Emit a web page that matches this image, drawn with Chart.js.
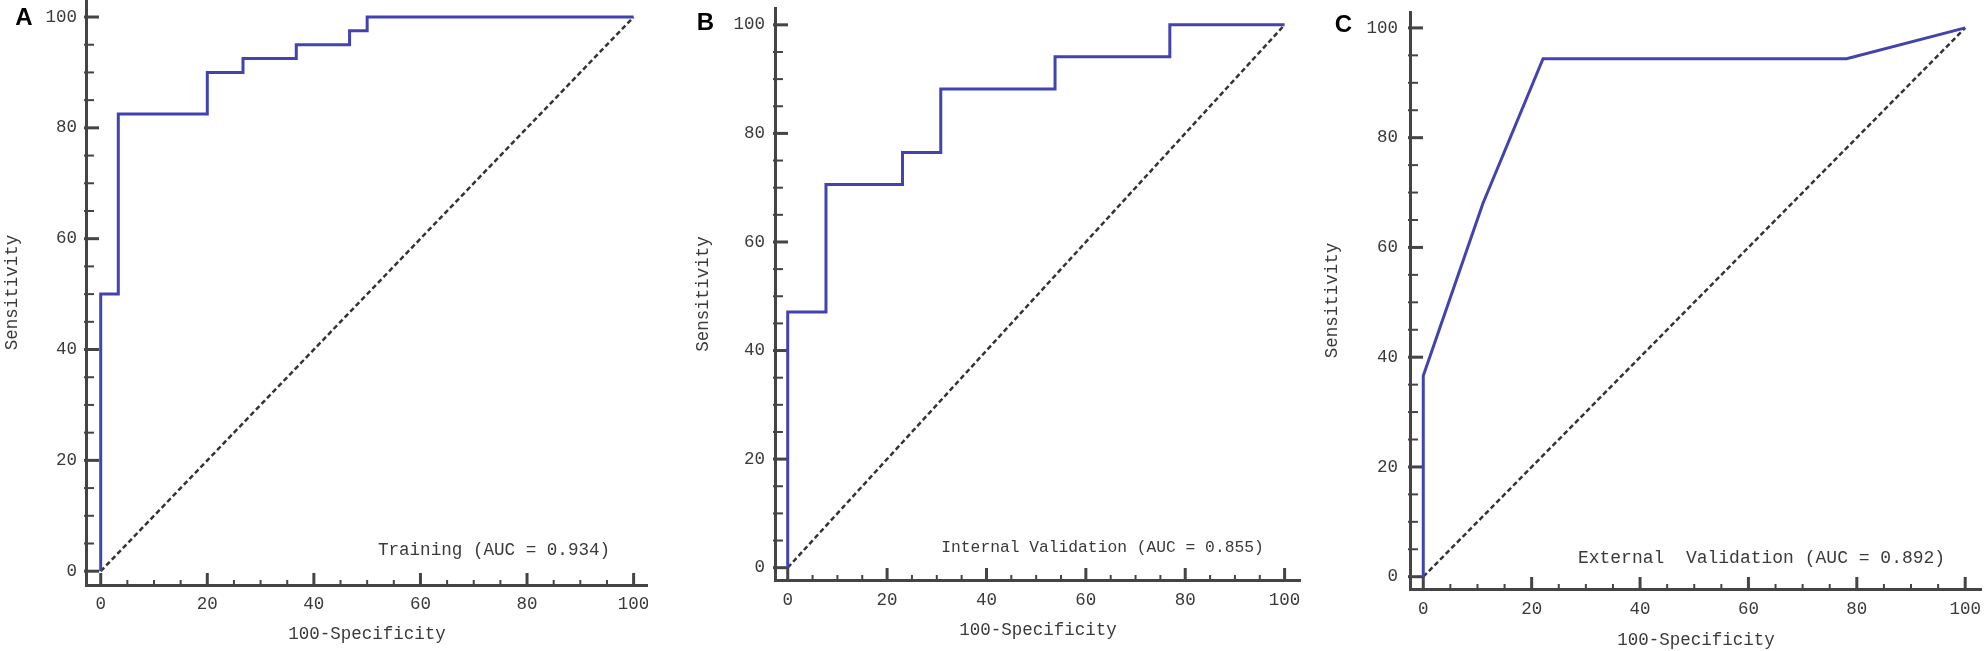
<!DOCTYPE html>
<html>
<head>
<meta charset="utf-8">
<script src="https://cdn.jsdelivr.net/npm/chart.js@4.4.1/dist/chart.umd.min.js"></script>
<style>
  html, body { margin: 0; padding: 0; background: #fff; }
  body { width: 1984px; height: 651px; position: relative; overflow: hidden; }
  .panel { position: absolute; top: 0; height: 651px; }
</style>
</head>
<body>
<div class="panel" id="boxA"><canvas id="chartA"></canvas></div>
<div class="panel" id="boxB"><canvas id="chartB"></canvas></div>
<div class="panel" id="boxC"><canvas id="chartC"></canvas></div>
<script>
// axis ticks shared by the three ROC plots
const tickValues = [0, 20, 40, 60, 80, 100];
const minorValues = [5, 10, 15, 25, 30, 35, 45, 50, 55, 65, 70, 75, 85, 90, 95];
const xTitle = '100-Specificity';
const yTitle = 'Sensitivity';

// chance line
const diagX = [0, 100];
const diagY = [0, 100];

// A - training
const fprA = [0, 0, 3.3, 20, 26.7, 36.7, 46.7, 50, 100];
const tprA = [0, 50, 82.5, 90, 92.5, 95, 97.5, 100, 100];
const noteA = 'Training (AUC = 0.934)';

// B - internal validation
const fprB = [0, 0, 7.7, 23.1, 30.8, 53.8, 76.9, 100];
const tprB = [0, 47.1, 70.6, 76.5, 88.2, 94.1, 100, 100];
const noteB = 'Internal Validation (AUC = 0.855)';

// C - external validation
const fprC = [0, 0, 11, 22.1, 78.1, 100];
const tprC = [0, 36.6, 68, 94.4, 94.4, 100];
const noteC = 'External  Validation (AUC = 0.892)';

const textColor = '#3a3a3a';
const axisColor = '#444';
const monoFont = '"Liberation Mono", "DejaVu Sans Mono", monospace';

const panels = [
  {
    canvas: 'chartA', box: 'boxA', left: 0, width: 648, letter: 'A',
    fpr: fprA, tpr: tprA, stepped: 'before', note: noteA,
    padTop: 0, yWidth: 86, xHeight: 66,
    xRange: [-2.76, 102.7], yRange: [-2.49, 103.07],
    yTickPad: 9, xTickPad: 9, yTitlePad: 2, xTitlePad: 6,
    notePos: [95.6, 3.8], noteSize: 17.6, letterPos: [24, 18]
  },
  {
    canvas: 'chartB', box: 'boxB', left: 688, width: 613, letter: 'B',
    fpr: fprB, tpr: tprB, stepped: 'before', note: noteB,
    padTop: 8, yWidth: 87, xHeight: 71,
    xRange: [-2.56, 103.3], yRange: [-2.27, 103.1],
    yTickPad: 10, xTickPad: 10, yTitlePad: 5, xTitlePad: 10,
    notePos: [95.8, 3.6], noteSize: 16.3, letterPos: [17.5, 23]
  },
  {
    canvas: 'chartC', box: 'boxC', left: 1320, width: 662, letter: 'C',
    fpr: fprC, tpr: tprC, stepped: false, note: noteC,
    padTop: 12, yWidth: 90, xHeight: 62,
    xRange: [-2.45, 103.1], yRange: [-2.24, 102.9],
    yTickPad: 12, xTickPad: 10, yTitlePad: 1.5, xTitlePad: 0,
    notePos: [96.3, 3.4], noteSize: 18, letterPos: [23.5, 25]
  }
];

// inward tick marks, major every 20 and minor every 5
const inwardTicks = {
  id: 'inwardTicks',
  beforeDatasetsDraw(chart) {
    const { ctx, chartArea, scales } = chart;
    const xs = scales.x, ys = scales.y;
    ctx.save();
    ctx.strokeStyle = axisColor;
    ctx.lineCap = 'butt';
    function mark(list, lenY, lenX, width) {
      ctx.lineWidth = width;
      list.forEach(v => {
        const py = ys.getPixelForValue(v);
        ctx.beginPath();
        ctx.moveTo(chartArea.left - 2, py);
        ctx.lineTo(chartArea.left + lenY, py);
        ctx.stroke();
        const px = xs.getPixelForValue(v);
        ctx.beginPath();
        ctx.moveTo(px, chartArea.bottom + 2);
        ctx.lineTo(px, chartArea.bottom - lenX);
        ctx.stroke();
      });
    }
    mark(tickValues, 13, 12, 3);
    mark(minorValues, 8, 5, 2);
    ctx.restore();
  }
};

// AUC note and panel letter
const panelText = {
  id: 'panelText',
  afterDraw(chart, args, opts) {
    const { ctx, scales } = chart;
    ctx.save();
    ctx.fillStyle = textColor;
    ctx.font = opts.noteSize + 'px ' + monoFont;
    ctx.textAlign = 'right';
    ctx.textBaseline = 'middle';
    ctx.fillText(opts.note, scales.x.getPixelForValue(opts.notePos[0]), scales.y.getPixelForValue(opts.notePos[1]));
    ctx.fillStyle = '#000';
    ctx.font = 'bold 24px "Liberation Sans", Arial, sans-serif';
    ctx.textAlign = 'center';
    ctx.fillText(opts.letter, opts.letterPos[0], opts.letterPos[1]);
    ctx.restore();
  }
};

function buildPanel(p) {
  const box = document.getElementById(p.box);
  box.style.left = p.left + 'px';
  box.style.width = p.width + 'px';

  const curve = p.fpr.map((v, i) => ({ x: v, y: p.tpr[i] }));
  const chance = diagX.map((v, i) => ({ x: v, y: diagY[i] }));

  const tickFont = { family: monoFont, size: 17.5 };

  return new Chart(document.getElementById(p.canvas), {
    type: 'line',
    data: {
      datasets: [
        {
          data: curve,
          borderColor: '#4343b0',
          borderWidth: 3,
          stepped: p.stepped,
          tension: 0,
          pointRadius: 0,
          fill: false,
          clip: false
        },
        {
          data: chance,
          borderColor: '#333',
          borderWidth: 2.5,
          borderDash: [5, 3],
          tension: 0,
          pointRadius: 0,
          fill: false,
          clip: false
        }
      ]
    },
    options: {
      responsive: true,
      maintainAspectRatio: false,
      animation: false,
      layout: { padding: { top: p.padTop, left: 0, right: 0, bottom: 0 } },
      plugins: {
        legend: { display: false },
        tooltip: { enabled: false },
        panelText: { note: p.note, notePos: p.notePos, noteSize: p.noteSize, letter: p.letter, letterPos: p.letterPos }
      },
      scales: {
        x: {
          type: 'linear',
          min: p.xRange[0],
          max: p.xRange[1],
          grid: { display: false, drawTicks: false },
          border: { display: true, color: axisColor, width: 3 },
          ticks: { color: textColor, font: tickFont, padding: p.xTickPad, maxRotation: 0 },
          title: {
            display: true, text: xTitle, color: textColor,
            font: tickFont, padding: { top: 0, bottom: p.xTitlePad }
          },
          afterBuildTicks: s => { s.ticks = tickValues.map(v => ({ value: v })); },
          afterFit: s => { s.height = p.xHeight; s.paddingLeft = 0; s.paddingRight = 0; }
        },
        y: {
          type: 'linear',
          min: p.yRange[0],
          max: p.yRange[1],
          grid: { display: false, drawTicks: false },
          border: { display: true, color: axisColor, width: 3 },
          ticks: { color: textColor, font: tickFont, padding: p.yTickPad },
          title: {
            display: true, text: yTitle, color: textColor,
            font: tickFont, padding: { top: p.yTitlePad, bottom: 0 }
          },
          afterBuildTicks: s => { s.ticks = tickValues.map(v => ({ value: v })); },
          afterFit: s => { s.width = p.yWidth; s.paddingTop = 0; s.paddingBottom = 0; }
        }
      }
    },
    plugins: [inwardTicks, panelText]
  });
}

panels.forEach(buildPanel);
</script>
</body>
</html>
